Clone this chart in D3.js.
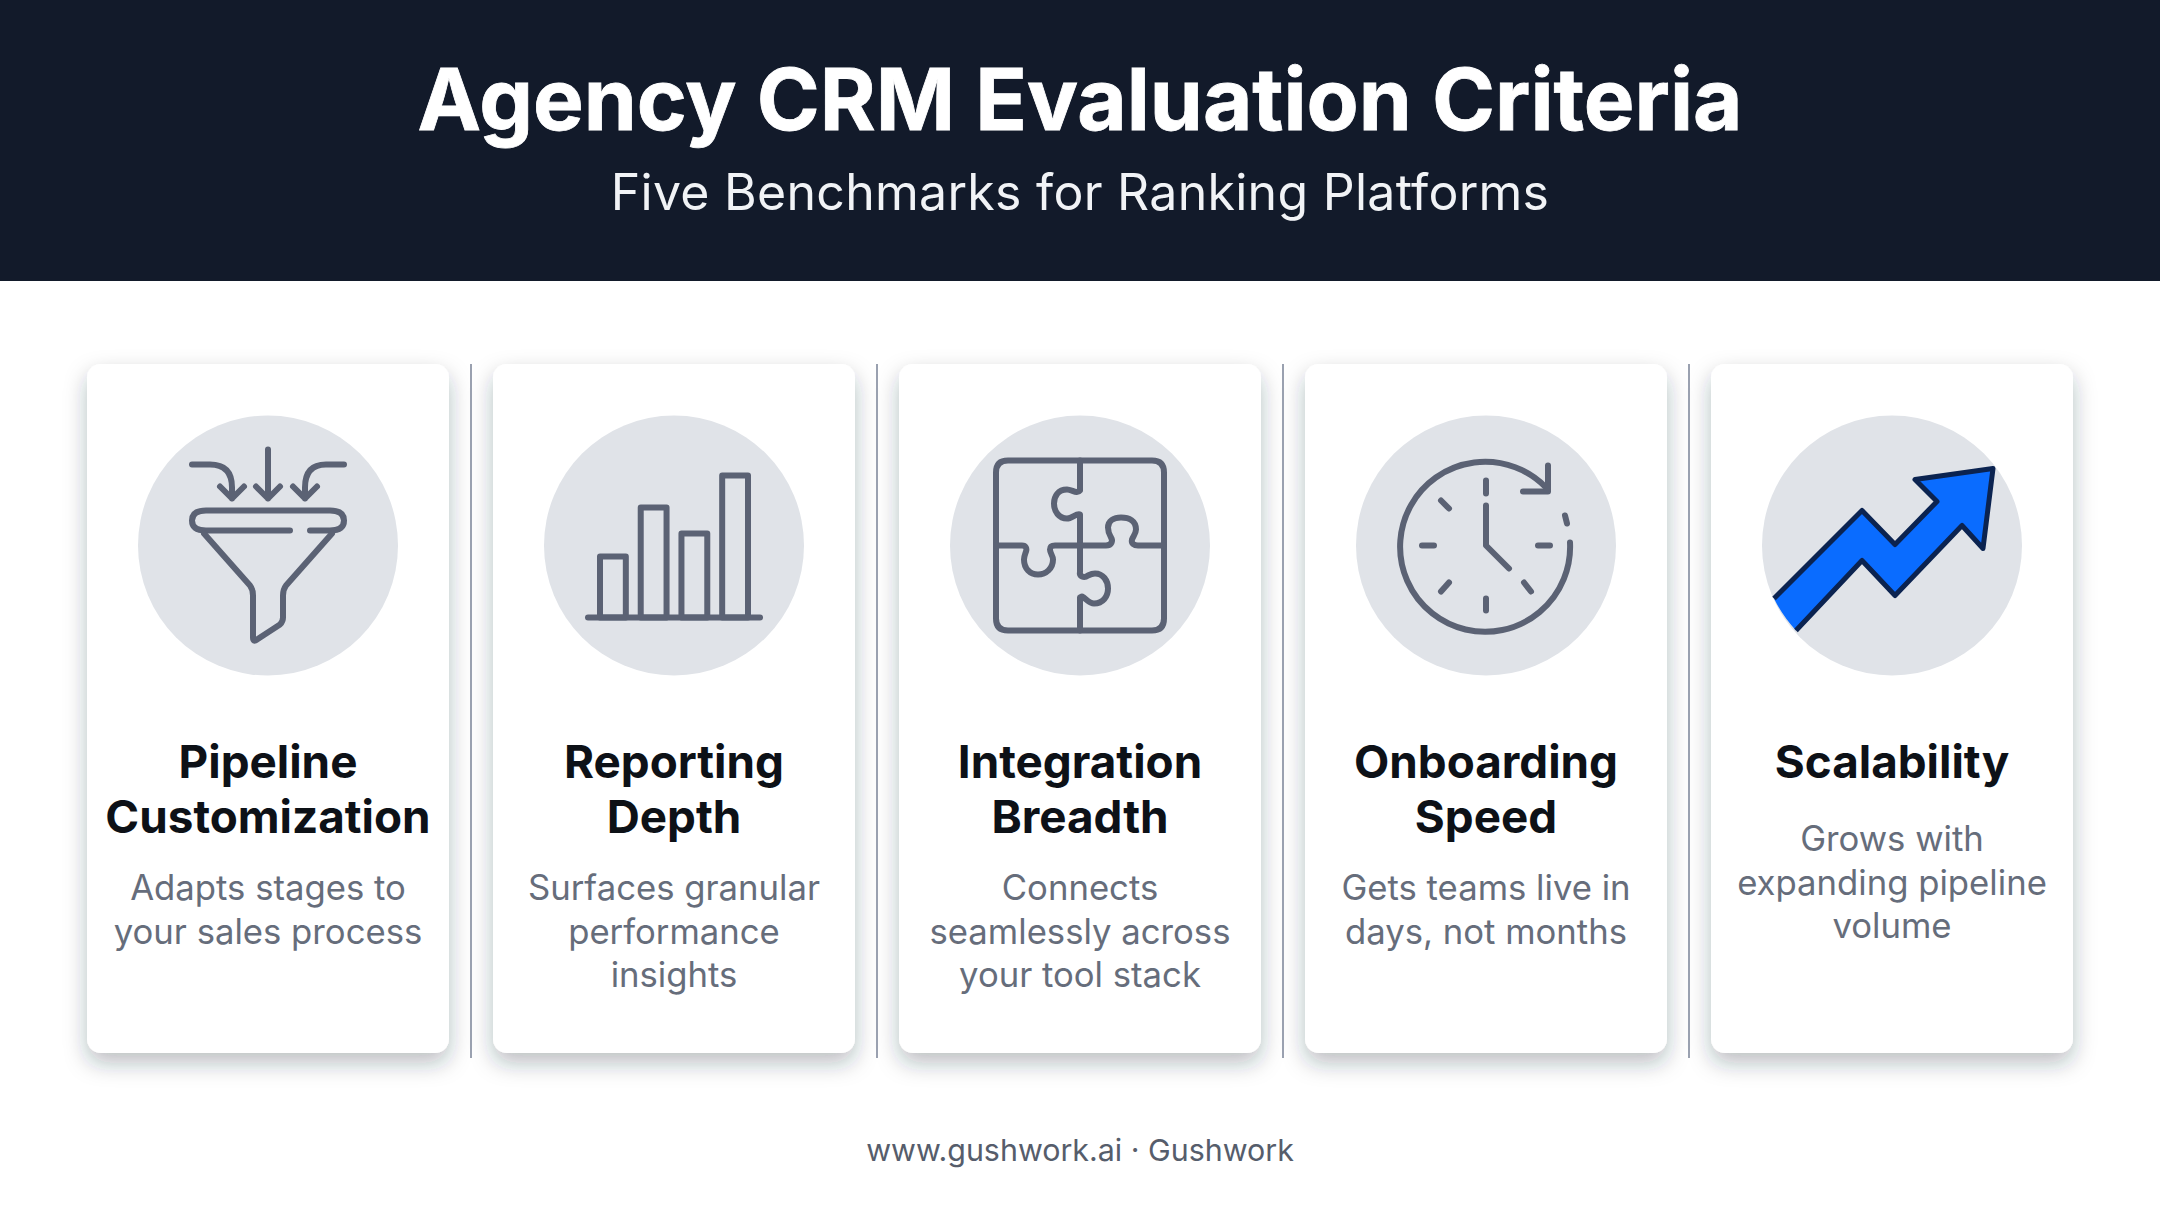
<!DOCTYPE html>
<html>
<head>
<meta charset="utf-8">
<script src="https://cdn.jsdelivr.net/npm/d3@7"></script>
<style>
  html, body { margin: 0; background: #ffffff; }
  svg { display: block; font-family: Inter, sans-serif; }
</style>
</head>
<body>
<svg id="chart" width="2160" height="1206"></svg>
<script>
const titleText = "Agency CRM Evaluation Criteria";
const subtitleText = "Five Benchmarks for Ranking Platforms";
const footerText = "www.gushwork.ai · Gushwork";
const criteria = ["Pipeline Customization", "Reporting Depth", "Integration Breadth", "Onboarding Speed", "Scalability"];
const headingLines = [["Pipeline", "Customization"], ["Reporting", "Depth"], ["Integration", "Breadth"], ["Onboarding", "Speed"], ["Scalability"]];
const descriptionLines = [
  ["Adapts stages to", "your sales process"],
  ["Surfaces granular", "performance", "insights"],
  ["Connects", "seamlessly across", "your tool stack"],
  ["Gets teams live in", "days, not months"],
  ["Grows with", "expanding pipeline", "volume"]
];
const iconBarValues = [61, 110, 84, 142];

const svg = d3.select("#chart");
const defs = svg.append("defs");
const shadow = defs.append("filter").attr("id", "cardShadow")
  .attr("x", "-15%").attr("y", "-10%").attr("width", "130%").attr("height", "125%");
shadow.append("feDropShadow").attr("dx", 0).attr("dy", 10).attr("stdDeviation", 11)
  .attr("flood-color", "#1f2937").attr("flood-opacity", 0.3);

const ink = "#5b6274";
const cardX = d3.scaleBand().domain(criteria).range([87, 2073]).paddingInner(44 / 406).paddingOuter(0);
const cardW = cardX.bandwidth(), cardTop = 364, cardBottom = 1053;

// header
svg.append("rect").attr("width", 2160).attr("height", 281).attr("fill", "#121a2a");
svg.append("text").attr("x", 1080).attr("y", 130).attr("text-anchor", "middle")
  .attr("font-size", 85.2).attr("font-weight", 700).attr("fill", "#ffffff")
  .attr("stroke", "#ffffff").attr("stroke-width", 0.8).text(titleText);
svg.append("text").attr("x", 1080).attr("y", 210).attr("text-anchor", "middle")
  .attr("font-size", 50).attr("font-weight", 400).attr("letter-spacing", 0.28).attr("fill", "#f1f3f6").text(subtitleText);

// cards
const cards = svg.selectAll(".card").data(criteria).join("g").attr("class", "card")
  .attr("transform", d => "translate(" + cardX(d) + "," + cardTop + ")");
cards.append("rect").attr("width", cardW).attr("height", cardBottom - cardTop).attr("rx", 14)
  .attr("fill", "#ffffff").attr("filter", "url(#cardShadow)");

// dividers
svg.selectAll(".divider").data(criteria.slice(1)).join("line").attr("class", "divider")
  .attr("x1", d => cardX(d) - 22).attr("x2", d => cardX(d) - 22)
  .attr("y1", cardTop).attr("y2", 1058)
  .attr("stroke", "#8f97a8").attr("stroke-width", 1.8);

const icons = cards.append("g").attr("transform", "translate(" + cardW / 2 + "," + (545.5 - cardTop) + ")");
icons.append("circle").attr("r", 130).attr("fill", "#e0e3e8");

const stroked = (g, d, w) => g.append("path").attr("d", d).attr("fill", "none").attr("stroke", ink)
  .attr("stroke-width", w || 6).attr("stroke-linecap", "round").attr("stroke-linejoin", "round");

// funnel
const funnel = d3.select(icons.nodes()[0]);
[
  "M-76,-81 H-58 Q-36,-81 -36,-58 V-47 M-48,-59 L-36,-47 L-24,-59",
  "M0,-96 V-47 M-12,-59 L0,-47 L12,-59",
  "M76,-81 H58 Q37,-81 37,-58 V-47 M25,-59 L37,-47 L49,-59",
  "M22,-15 H-62 Q-76,-15 -76,-25 Q-76,-35 -62,-35 H62 Q76,-35 76,-25 Q76,-15 62,-15 H42",
  "M-64,-12 L-18,40 Q-15,44 -15,50 V92 Q-15,97 -11,94 L12,79 Q15,76 15,72 V50 Q15,44 18,40 L64,-12"
].forEach(d => stroked(funnel, d));

// bars
const bars = d3.select(icons.nodes()[1]);
const barX = d3.scaleBand().domain(d3.range(iconBarValues.length)).range([-74, 74]).paddingInner(15 / 41);
const barY = d3.scaleLinear().domain([0, d3.max(iconBarValues)]).range([72, -70]);
bars.selectAll("rect").data(iconBarValues).join("rect")
  .attr("x", (d, i) => barX(i)).attr("y", d => barY(d))
  .attr("width", barX.bandwidth()).attr("height", d => barY(0) - barY(d))
  .attr("fill", "none").attr("stroke", ink).attr("stroke-width", 6).attr("stroke-linejoin", "round");
stroked(bars, "M-86,72 H86");

// puzzle
const puzzle = d3.select(icons.nodes()[2]);
[
  "M-72,-85 H72 Q84,-85 84,-73 V73 Q84,85 72,85 H-72 Q-84,85 -84,73 V-73 Q-84,-85 -72,-85 Z",
  "M0,-85 V-55 C-3,-51 -8,-56 -13,-56 C-22,-56 -26,-49 -26,-42 C-26,-34 -21,-27 -13,-27 C-8,-27 -3,-33 0,-31 V0",
  "M0,0 H26 C32,0 33,-5 31,-8 C28,-13 28,-16 28,-18 C28,-25 34,-28 41,-28 C49,-28 56,-25 56,-16 C56,-12 53,-9 52,-6 C51,-2 54,0 58,0 H84",
  "M-84,0 H-58 C-54,0 -53,3 -54,6 C-55,9 -56,11 -56,14 C-56,23 -50,29 -42,29 C-34,29 -27,23 -27,14 C-27,10 -30,8 -30,4 C-30,1 -28,0 -25,0 H0",
  "M0,0 V26 C-1,31 4,33 8,30 C10,29 12,28 15,28 C23,28 28,35 28,43 C28,51 23,58 14,58 C9,58 6,53 2,51 L0,52 V85"
].forEach(d => stroked(puzzle, d));

// clock
const clock = d3.select(icons.nodes()[3]);
[
  "M84,-3 A85,85 0 1 1 60,-58",
  "M62,-80 V-54 H37",
  "M79,-30 L81,-22",
  "M0,-65 V-52 M0,53 V65 M52,0 H64 M-64,0 H-52",
  "M-45,-45 L-37,-37 M-45,46 L-37,37 M38,37 L45,46",
  "M0,-40 V0 L23,23"
].forEach(d => stroked(clock, d));

// growth arrow
const growth = d3.select(icons.nodes()[4]);
const arrowPath = "M-118,53 L-30,-35 L3,-1 L45,-44 L23,-66 L101,-77 L91,3 L70,-20 L3,50 L-30,15 L-96,85";
growth.append("path").attr("d", arrowPath + " A130,130 0 0 1 -118,53 Z").attr("fill", "#0a6cff");
growth.append("path").attr("d", arrowPath).attr("fill", "none").attr("stroke", "#0b2350")
  .attr("stroke-width", 5).attr("stroke-linejoin", "round").attr("stroke-linecap", "butt");

// card text
cards.each(function(d, i) {
  const g = d3.select(this);
  const heads = headingLines[i];
  g.selectAll(".head").data(heads).join("text").attr("class", "head")
    .attr("x", cardW / 2).attr("y", (t, j) => 778 - cardTop + j * 55)
    .attr("text-anchor", "middle").attr("font-size", 45.8).attr("font-weight", 700).attr("fill", "#0d1117")
    .text(t => t);
  const descTop = heads.length === 1 ? 851 : 900;
  g.selectAll(".desc").data(descriptionLines[i]).join("text").attr("class", "desc")
    .attr("x", cardW / 2).attr("y", (t, j) => descTop - cardTop + j * 43.5)
    .attr("text-anchor", "middle").attr("font-size", 34.7).attr("font-weight", 400).attr("fill", "#666d7b")
    .text(t => t);
});

// footer
svg.append("text").attr("x", 1080).attr("y", 1161).attr("text-anchor", "middle")
  .attr("font-size", 30.4).attr("fill", "#565d6b").text(footerText);
</script>
</body>
</html>
